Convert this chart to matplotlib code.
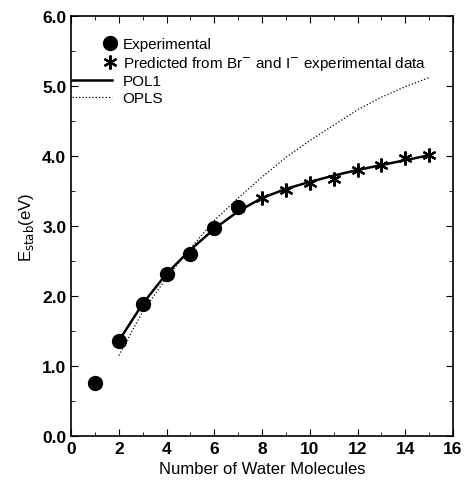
import numpy as np
import matplotlib
matplotlib.use('Agg')
import matplotlib.pyplot as plt
from matplotlib.ticker import MultipleLocator, FormatStrFormatter
from matplotlib.legend_handler import HandlerLine2D

# data
n_exp = [1, 2, 3, 4, 5, 6, 7]
e_exp = [0.75, 1.36, 1.89, 2.31, 2.60, 2.97, 3.27]

n_pred = [8, 9, 10, 11, 12, 13, 14, 15]
e_pred = [3.40, 3.52, 3.62, 3.67, 3.80, 3.87, 3.97, 4.01]

n_pol1 = [2, 3, 4, 5, 6, 7, 8, 9, 10, 11, 12, 13, 14, 15]
e_pol1 = [1.36, 1.89, 2.32, 2.66, 2.96, 3.21, 3.40, 3.53, 3.63, 3.72, 3.80, 3.87, 3.94, 4.01]

n_opls = [2, 3, 4, 5, 6, 7, 8, 9, 10, 11, 12, 13, 14, 15]
e_opls = [1.15, 1.78, 2.26, 2.68, 3.08, 3.40, 3.70, 3.98, 4.22, 4.44, 4.66, 4.84, 4.99, 5.12]

plt.rcParams['font.family'] = ['Liberation Sans', 'DejaVu Sans']
plt.rcParams['font.size'] = 11


class RightMarker(HandlerLine2D):
    # marker-only entry: put the marker at the right end of the handle
    def get_xdata(self, legend, xdescent, ydescent, width, height, fontsize):
        xm = width - xdescent - 0.1 * fontsize
        return np.array([xm - 1, xm + 1]), np.array([xm])


fig = plt.figure(figsize=(4.68, 4.85), dpi=100)
ax = fig.add_axes([0.152, 0.099, 0.816, 0.866])

h_exp, = ax.plot(n_exp, e_exp, 'o', color='black', markersize=10, label='Experimental')
h_pred, = ax.plot(n_pred, e_pred, marker=(6, 2, 0), linestyle='none', color='black',
                  markersize=10, markeredgewidth=1.6,
                  label='Predicted from Br$^{-}$ and I$^{-}$ experimental data')
ax.plot(n_pol1, e_pol1, '-', color='black', linewidth=1.8, label='POL1')
ax.plot(n_opls, e_opls, ':', color='black', linewidth=0.9, label='OPLS')

ax.set_xlim(0, 16)
ax.set_ylim(0, 6)
ax.xaxis.set_major_locator(MultipleLocator(2))
ax.xaxis.set_minor_locator(MultipleLocator(1))
ax.yaxis.set_major_locator(MultipleLocator(1))
ax.yaxis.set_minor_locator(MultipleLocator(0.5))
ax.yaxis.set_major_formatter(FormatStrFormatter('%.1f'))
ax.tick_params(which='both', direction='in', top=True, right=True, labelsize=12.5)
ax.tick_params(which='major', length=5)
ax.tick_params(which='minor', length=3)
for lbl in ax.get_xticklabels() + ax.get_yticklabels():
    lbl.set_fontweight('bold')
for s in ax.spines.values():
    s.set_linewidth(1.2)

ax.set_xlabel('Number of Water Molecules', fontsize=12)
ax.set_ylabel(r'E$_{\rm stab}$(eV)', fontsize=12)

ax.legend(loc='upper left', bbox_to_anchor=(-0.033, 0.982), frameon=False,
          handlelength=2.6, handletextpad=0.7, labelspacing=0.17, fontsize=11,
          handler_map={h_exp: RightMarker(), h_pred: RightMarker()})

fig.savefig('out.png', dpi=100)
